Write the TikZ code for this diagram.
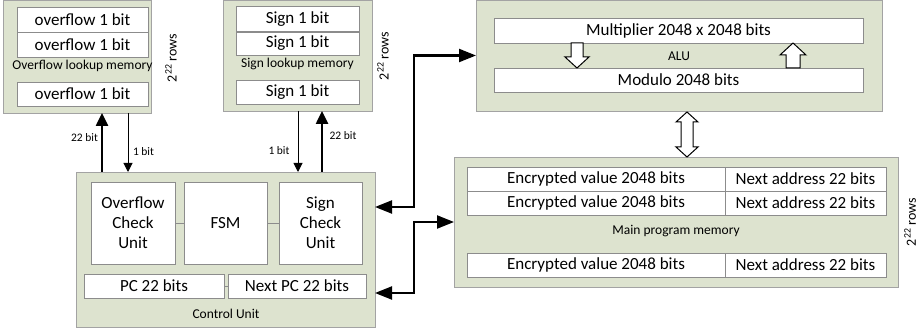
\documentclass[tikz,border=0pt]{standalone}
\usepackage{fontspec}
\setmainfont{Carlito}
\usepackage{tikz}
\usetikzlibrary{arrows.meta, positioning}

\definecolor{blockfill}{HTML}{DDE3CF}
\definecolor{blockline}{HTML}{A3A3A3}
\definecolor{cellline}{HTML}{8C8C8C}

\begin{document}
\begin{tikzpicture}[x=1pt, y=-1pt,
    every node/.style={inner sep=0pt, outer sep=0pt},
    memblock/.style={draw=blockline, fill=blockfill, line width=0.8pt},
    cell/.style={draw=cellline, fill=white, line width=0.8pt, font=\fontsize{17}{20}\selectfont},
    smalltext/.style={font=\fontsize{13.5}{16}\selectfont},
    bittext/.style={font=\fontsize{11.5}{14}\selectfont},
    rowstext/.style={font=\fontsize{14}{16}\selectfont, rotate=90},
    wideline/.style={line width=2.5pt, -{Triangle[length=13pt,width=12pt]}},
    narrowline/.style={line width=1pt, -{Triangle[length=9pt,width=9pt]}},
    bus/.style={line width=2.2pt, {Triangle[length=17pt,width=13pt]}-{Triangle[length=17pt,width=13pt]}},
    fatarrow/.style={draw, fill=white, line width=1pt}]
    \useasboundingbox (0,0) rectangle (921,331);

    % Overflow lookup memory (2^22 rows of 1 bit)
    \node[memblock, minimum width=148, minimum height=113] (ovfmem) at (77,56.5) {};
    \node[cell, minimum width=131, minimum height=25] (ovf1) at (82.5,19.5) {overflow 1 bit};
    \node[cell, minimum width=131, minimum height=25] (ovf2) at (82.5,44.5) {overflow 1 bit};
    \node[smalltext] (ovflabel) at (82.5,66) {Overflow lookup memory};
    \node[cell, minimum width=131, minimum height=24] (ovf3) at (82.5,94) {overflow 1 bit};
    \node[rowstext] (ovfrows) at (171,58) {2\textsuperscript{22} rows};

    % Sign lookup memory
    \node[memblock, minimum width=149, minimum height=111] (sgnmem) at (297.5,55.5) {};
    \node[cell, minimum width=123, minimum height=25] (sgn1) at (297.5,19) {Sign 1 bit};
    \node[cell, minimum width=123, minimum height=23] (sgn2) at (297.5,43.5) {Sign 1 bit};
    \node[smalltext] (sgnlabel) at (297.5,64) {Sign lookup memory};
    \node[cell, minimum width=123, minimum height=24] (sgn3) at (297.5,92.5) {Sign 1 bit};
    \node[rowstext] (sgnrows) at (383,56) {2\textsuperscript{22} rows};

    % ALU
    \node[memblock, minimum width=406, minimum height=111] (alu) at (679,55.5) {};
    \node[cell, minimum width=369, minimum height=25] (mult) at (678.5,30.5) {Multiplier 2048 x 2048 bits};
    \node[cell, minimum width=369, minimum height=24] (modu) at (678.5,80) {Modulo 2048 bits};
    \node[smalltext] (alulabel) at (679,56) {ALU};

    % Main program memory
    \node[memblock, minimum width=444, minimum height=130] (mem) at (676,222) {};
    \node[cell, minimum width=258, minimum height=24] (enc1) at (596,179) {Encrypted value 2048 bits};
    \node[cell, minimum width=161, minimum height=24] (nxt1) at (805.5,179) {Next address 22 bits};
    \node[cell, minimum width=258, minimum height=24] (enc2) at (596,203) {Encrypted value 2048 bits};
    \node[cell, minimum width=161, minimum height=24] (nxt2) at (805.5,203) {Next address 22 bits};
    \node[smalltext] (memlabel) at (676,231) {Main program memory};
    \node[cell, minimum width=258, minimum height=24] (enc3) at (596,265) {Encrypted value 2048 bits};
    \node[cell, minimum width=161, minimum height=24] (nxt3) at (805.5,265) {Next address 22 bits};
    \node[rowstext] (memrows) at (910,222) {2\textsuperscript{22} rows};

    % Control Unit
    \node[memblock, minimum width=299, minimum height=155] (cu) at (225.5,249.5) {};
    \node[cell, minimum width=84, minimum height=82, align=center] (ovc) at (133,223) {Overflow\\Check\\Unit};
    \node[cell, minimum width=83, minimum height=82] (fsm) at (225.5,223) {FSM};
    \node[cell, minimum width=83, minimum height=82, align=center] (sgc) at (320.5,223) {Sign\\Check\\Unit};
    \node[cell, minimum width=140, minimum height=24] (pc) at (154,286) {PC 22 bits};
    \node[cell, minimum width=138, minimum height=24] (npc) at (297,286) {Next PC 22 bits};
    \node[smalltext] (culabel) at (226,314) {Control Unit};
    \draw[cellline] (ovc) -- (fsm);
    \draw[cellline] (fsm) -- (sgc);
    \draw[cellline] (pc) -- (npc);

    % lookup memories <-> control unit
    \coordinate (ovfup) at (102,0);
    \coordinate (ovfdown) at (128,0);
    \coordinate (sgndown) at (298,0);
    \coordinate (sgnup) at (322,0);
    \draw[wideline] (cu.north -| ovfup) -- (ovfmem.south -| ovfup);
    \draw[narrowline] (ovfmem.south -| ovfdown) -- (cu.north -| ovfdown);
    \draw[narrowline] (sgnmem.south -| sgndown) -- (cu.north -| sgndown);
    \draw[wideline] (cu.north -| sgnup) -- (sgnmem.south -| sgnup);
    \node[bittext] (ovfaddr) at (84.5,138) {22 bit};
    \node[bittext] (ovfbit) at (143.5,152) {1 bit};
    \node[bittext] (sgnbit) at (279,151) {1 bit};
    \node[bittext] (sgnaddr) at (343,136) {22 bit};

    % buses to ALU and main memory
    \coordinate (busa) at (414,207);
    \coordinate (busb) at (414,293);
    \draw[bus] (cu.east |- busa) -- (busa) |- (alu.west);
    \draw[bus] (cu.east |- busb) -- (busb) |- (mem.west);

    % hollow arrows inside the ALU and between ALU and memory
    \draw[fatarrow] (571,43) -- (583,43) -- (583,57) -- (589,57) -- (577,68) -- (565,57) -- (571,57) -- cycle;
    \draw[fatarrow] (786,68) -- (800,68) -- (800,55) -- (806,55) -- (793,43) -- (780,55) -- (786,55) -- cycle;
    \draw[fatarrow] (681,122) -- (676,122) -- (687,112) -- (698,122) -- (693,122) -- (693,147)
        -- (698,147) -- (687,157) -- (676,147) -- (681,147) -- cycle;
\end{tikzpicture}
\end{document}
